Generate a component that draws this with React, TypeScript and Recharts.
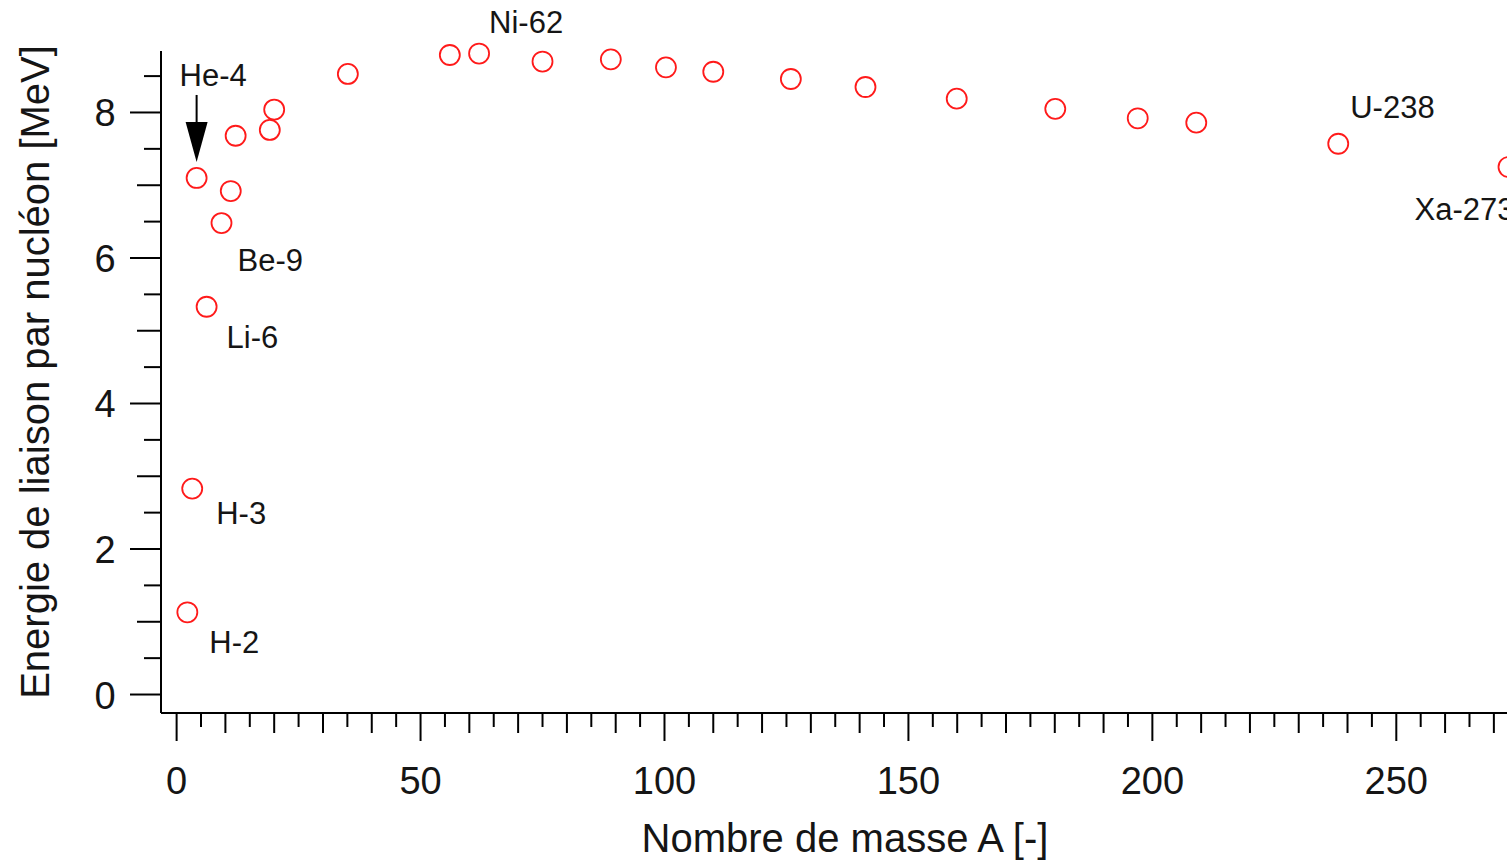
import { ScatterChart, Scatter, XAxis, YAxis } from 'recharts';

// Mass number A and binding energy per nucleon (MeV)
const massNumbers = [
  2.2, 3.2, 4.1, 6.15, 9.2, 11.1, 12.1, 19.1, 20.0, 35.1, 56, 62, 75, 89, 100.3,
  110, 125.9, 141.2, 159.9, 180.1, 197, 209, 238.1, 273,
];
const bindingEnergies = [
  1.13, 2.83, 7.1, 5.33, 6.48, 6.92, 7.68, 7.76, 8.04, 8.53, 8.79, 8.81, 8.7,
  8.73, 8.62, 8.56, 8.46, 8.35, 8.19, 8.05, 7.92, 7.86, 7.57, 7.25,
];
const nuclideNames = [
  'H-2', 'H-3', 'He-4', 'Li-6', 'Be-9', '', '', '', '', '', '', 'Ni-62', '', '',
  '', '', '', '', '', '', '', '', 'U-238', 'Xa-273',
];

const X_MAJOR_TICKS = [0, 50, 100, 150, 200, 250];
const Y_MAJOR_TICKS = [0, 2, 4, 6, 8];

// label placement relative to the marker centre (px)
const LABEL_OFFSETS: Record<string, { dx: number; dy: number; arrow?: boolean }> = {
  'H-2': { dx: 22, dy: 30 },
  'H-3': { dx: 24, dy: 25 },
  'He-4': { dx: -17, dy: -102, arrow: true },
  'Li-6': { dx: 20, dy: 31 },
  'Be-9': { dx: 16, dy: 37 },
  'Ni-62': { dx: 10, dy: -31 },
  'U-238': { dx: 12, dy: -36 },
  'Xa-273': { dx: -94, dy: 42 },
};

const FONT = '"Liberation Sans", Arial, sans-serif';
const TEXT = '#151515';

const data = massNumbers.map((a, i) => ({
  a,
  e: bindingEnergies[i],
  name: nuclideNames[i],
}));

const xTicks: number[] = [];
for (let v = 0; v <= 275; v += 5) xTicks.push(v);
const yTicks: number[] = [];
for (let v = 0; v <= 8.5; v += 0.5) yTicks.push(v);

const XTick = (props: any) => {
  const { x, y, payload } = props;
  const v = payload.value;
  const major = X_MAJOR_TICKS.includes(v);
  const len = major ? 28 : v % 10 === 0 ? 20 : 14;
  return (
    <g>
      <line x1={x} x2={x} y1={y} y2={y + len} stroke="#000" strokeWidth={2} />
      {major && (
        <text
          x={x}
          y={y + 68}
          textAnchor="middle"
          dominantBaseline="central"
          fontSize={38}
          fontFamily={FONT}
          fill={TEXT}
        >
          {v}
        </text>
      )}
    </g>
  );
};

const YTick = (props: any) => {
  const { x, y, payload } = props;
  const v = payload.value;
  const major = Y_MAJOR_TICKS.includes(v);
  const len = major ? 31 : Number.isInteger(v) ? 24 : 17;
  return (
    <g>
      <line x1={x - len} x2={x} y1={y} y2={y} stroke="#000" strokeWidth={2} />
      {major && (
        <text
          x={x - 56}
          y={y + 1}
          textAnchor="middle"
          dominantBaseline="central"
          fontSize={38}
          fontFamily={FONT}
          fill={TEXT}
        >
          {v}
        </text>
      )}
    </g>
  );
};

const Marker = (props: any) => {
  const { cx, cy, payload } = props;
  const lbl = payload.name ? LABEL_OFFSETS[payload.name] : undefined;
  return (
    <g>
      <circle cx={cx} cy={cy} r={10} fill="none" stroke="#ff1a1a" strokeWidth={1.8} />
      {lbl && (
        <text
          x={cx + lbl.dx}
          y={cy + lbl.dy}
          dominantBaseline="central"
          fontSize={31}
          fontFamily={FONT}
          fill={TEXT}
        >
          {payload.name}
        </text>
      )}
      {lbl && lbl.arrow && (
        <g>
          <line x1={cx} x2={cx} y1={cy - 83} y2={cy - 50} stroke="#000" strokeWidth={2} />
          <polygon
            points={`${cx - 11},${cy - 56} ${cx + 11},${cy - 56} ${cx},${cy - 16}`}
            fill="#000"
          />
        </g>
      )}
    </g>
  );
};

export default function App() {
  return (
    <div
      style={{
        position: 'fixed',
        left: 0,
        top: 0,
        width: 1507,
        height: 860,
        overflow: 'hidden',
        background: '#fff',
      }}
    >
      <ScatterChart
        width={1530}
        height={860}
        margin={{ top: 51, right: 1, bottom: 0, left: 0 }}
      >
        <XAxis
          type="number"
          dataKey="a"
          domain={[-3.2, 277.2]}
          ticks={xTicks}
          interval={0}
          tickSize={0}
          tickMargin={0}
          tickLine={false}
          height={147}
          axisLine={{ stroke: '#000', strokeWidth: 2 }}
          tick={(p: any) => <XTick {...p} />}
          label={{
            content: (p: any) => {
              const vb = p.viewBox;
              return (
                <text
                  x={vb.x + vb.width / 2}
                  y={838}
                  textAnchor="middle"
                  dominantBaseline="central"
                  fontSize={40}
                  fontFamily={FONT}
                  fill={TEXT}
                >
                  Nombre de masse A [-]
                </text>
              );
            },
          }}
        />
        <YAxis
          type="number"
          dataKey="e"
          domain={[-0.254, 8.845]}
          ticks={yTicks}
          interval={0}
          tickSize={0}
          tickMargin={0}
          tickLine={false}
          width={161}
          axisLine={{ stroke: '#000', strokeWidth: 2 }}
          tick={(p: any) => <YTick {...p} />}
          label={{
            content: () => (
              <text
                x={35}
                y={372}
                transform="rotate(-90 35 372)"
                textAnchor="middle"
                dominantBaseline="central"
                fontSize={40}
                fontFamily={FONT}
                fill={TEXT}
              >
                Energie de liaison par nucléon [MeV]
              </text>
            ),
          }}
        />
        <Scatter data={data} shape={(p: any) => <Marker {...p} />} isAnimationActive={false} />
      </ScatterChart>
    </div>
  );
}
